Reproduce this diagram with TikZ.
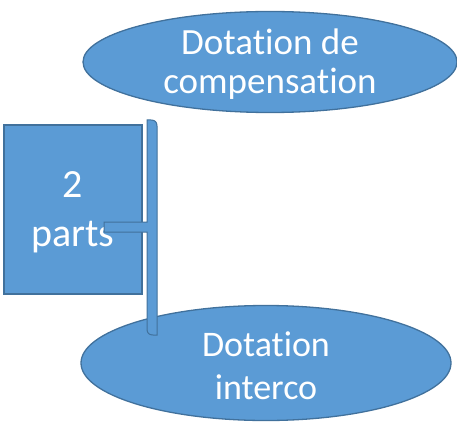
\documentclass[tikz,border=0pt]{standalone}
\usepackage{fontspec}
\setmainfont[RawFeature=-liga]{Carlito}
\usetikzlibrary{shapes.geometric}
\definecolor{ofill}{HTML}{5B9BD5}
\definecolor{oline}{HTML}{41719C}
\tikzset{
  shapebox/.style={fill=ofill, draw=oline, line width=1.3pt, text=white, inner sep=0pt, align=center},
  ellbox/.style={shapebox, ellipse},
  labeltext/.style={text=white, align=center, inner sep=0pt},
}
\begin{document}
\begin{tikzpicture}[x=1pt,y=-1pt]
\useasboundingbox (0,0) rectangle (457,422);
\node[ellbox, minimum width=374pt, minimum height=101pt] (comp) at (270,62) {};
\node[labeltext, font=\fontsize{37}{39}\selectfont] (comptext) at (270,64) {Dotation de\\compensation};
\node[ellbox, minimum width=370pt, minimum height=115pt] (inter) at (266,363) {};
\node[labeltext, font=\fontsize{36}{43}\selectfont] (intertext) at (266,366) {Dotation\\interco};
\node[shapebox, rectangle, minimum width=138pt, minimum height=169pt] (parts) at (73,209.5) {};
\node[labeltext, font=\fontsize{40}{49}\selectfont] (partstext) at (73,212) {2\\parts};
\draw[fill=ofill, draw=oline, line width=1pt]
  (104,222) -- (147,222) -- (147,120) -- (151,120)
  .. controls (155,120) and (157,122) .. (157,126)
  -- (157,335) -- (153,335)
  .. controls (149,335) and (147,333) .. (147,329)
  -- (147,232) -- (104,232) -- cycle;
\end{tikzpicture}
\end{document}
